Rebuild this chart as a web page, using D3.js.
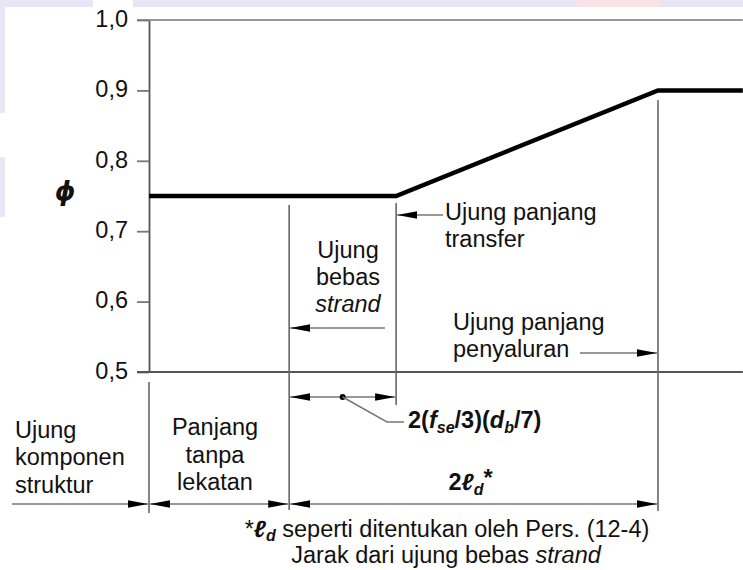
<!DOCTYPE html>
<html><head><meta charset="utf-8">
<script src="https://cdn.jsdelivr.net/npm/d3@7"></script>
<style>
html,body{margin:0;padding:0;background:#fff;}
svg{display:block;font-family:"Liberation Sans",Arial,Helvetica,sans-serif;}
</style></head>
<body>
<svg id="chart" width="743" height="570"></svg>
<script>
// ---------- data ----------
const yTickValues = [0.5, 0.6, 0.7, 0.8, 0.9, 1.0];
const yTickLabels = ["0,5", "0,6", "0,7", "0,8", "0,9", "1,0"];
// distances in units of l_d measured from the free end of the strand
const phiCurveDist = [-0.76, 0.58, 2.0, 2.46];
const phiCurveVal  = [0.75, 0.75, 0.90, 0.90];
const markNames = ["Ujung komponen struktur", "Ujung bebas strand", "Ujung panjang transfer", "Ujung panjang penyaluran"];
const markDist  = [-0.76, 0, 0.58, 2.0];
const xExtent = [-0.76, 2.46];

// ---------- setup ----------
const W = 743, H = 570;
const svg = d3.select("#chart");
const FS = 23.5;
const lineCol = "#666";

// faint watermark background
const bg = svg.append("g");
bg.append("rect").attr("x",0).attr("y",0).attr("width",W).attr("height",7).attr("fill","#e8e6f5");
bg.append("rect").attr("x",93).attr("y",0).attr("width",40).attr("height",7).attr("fill","#fff");
bg.append("rect").attr("x",578).attr("y",0).attr("width",82).attr("height",7).attr("fill","#f9e3e7");
bg.append("rect").attr("x",0).attr("y",7).attr("width",5).attr("height",106).attr("fill","#e8e6f5");
bg.append("rect").attr("x",0).attr("y",157).attr("width",5).attr("height",60).attr("fill","#e8e6f5");

const x = d3.scaleLinear().domain([markDist[0], markDist[3]]).range([149, 658]);
const y = d3.scaleLinear().domain([0.5, 1.0]).range([372, 20]);

// markers
const defs = svg.append("defs");
defs.append("marker").attr("id","ah").attr("viewBox","0 -4 20 8")
  .attr("refX",20).attr("refY",0).attr("markerWidth",20).attr("markerHeight",8)
  .attr("markerUnits","userSpaceOnUse").attr("orient","auto-start-reverse")
  .append("path").attr("d","M0,-3.8L20,0L0,3.8Z").attr("fill","#000");

// ---------- axis ----------
const axis = d3.axisLeft(y).tickValues(yTickValues)
  .tickFormat((d,i)=>yTickLabels[i]).tickSize(12).tickSizeOuter(0).tickPadding(9);
const gAxis = svg.append("g").attr("transform",`translate(${x(markDist[0])},0)`).call(axis);
gAxis.select(".domain").attr("stroke","#555").attr("stroke-width",1.8);
gAxis.selectAll(".tick line").attr("stroke","#777").attr("stroke-width",1.8);
gAxis.selectAll(".tick text").attr("font-size",FS).attr("fill","#111")
  .attr("font-family","'Liberation Sans',Arial,sans-serif").attr("dy","0.27em");

// horizontal frame lines at 1.0 and 0.5
svg.append("line").attr("x1",x(markDist[0])-12).attr("x2",x(xExtent[1]))
  .attr("y1",y(1.0)).attr("y2",y(1.0)).attr("stroke","#777").attr("stroke-width",1.6);
svg.append("line").attr("x1",x(markDist[0])-12).attr("x2",x(xExtent[1]))
  .attr("y1",y(0.5)).attr("y2",y(0.5)).attr("stroke","#555").attr("stroke-width",2);

// phi label
svg.append("text").attr("x",65).attr("y",200).attr("text-anchor","middle")
  .attr("font-size",26).attr("font-weight","bold").attr("font-style","italic")
  .attr("font-family","'DejaVu Sans',sans-serif").attr("fill","#111").text("\u03D5");

// ---------- vertical marker lines ----------
const vLines = [
  {d: markDist[0], y1: 382, y2: 513},
  {d: markDist[1], y1: 205, y2: 510},
  {d: markDist[2], y1: 203, y2: 405},
  {d: markDist[3], y1: 100, y2: 511}
];
svg.append("g").selectAll("line").data(vLines).join("line")
  .attr("x1",v=>x(v.d)).attr("x2",v=>x(v.d)).attr("y1",v=>v.y1).attr("y2",v=>v.y2)
  .attr("stroke",lineCol).attr("stroke-width",1.6);

// ---------- phi curve ----------
const curve = phiCurveDist.map((d,i)=>[d, phiCurveVal[i]]);
svg.append("path").datum(curve)
  .attr("d", d3.line().x(p=>x(p[0])).y(p=>y(p[1])))
  .attr("fill","none").attr("stroke","#000").attr("stroke-width",4.5).attr("stroke-linejoin","miter");

// ---------- dimension arrows ----------
function arrow(x1, x2, yy, start, end){
  const l = svg.append("line").attr("x1",x1).attr("x2",x2).attr("y1",yy).attr("y2",yy)
    .attr("stroke","#777").attr("stroke-width",1.6);
  if(start) l.attr("marker-start","url(#ah)");
  if(end) l.attr("marker-end","url(#ah)");
}
// transfer length pointer
arrow(443, x(markDist[2])+1, 215, false, true);
// free strand end pointer
arrow(385, x(markDist[1])+1, 328, false, true);
// development length pointer
arrow(580, x(markDist[3])-1, 353, false, true);
// 2(fse/3)(db/7)
arrow(x(markDist[1])+1, x(markDist[2])-1, 397, true, true);
// bottom row
arrow(12, x(markDist[0])-1, 504, false, true);
arrow(x(markDist[0])+1, x(markDist[1])-1, 504, true, true);
arrow(x(markDist[1])+1, x(markDist[3])-1, 504, true, true);

// leader for formula
const dotX = (x(markDist[1]) + x(markDist[2]))/2;
svg.append("circle").attr("cx",dotX).attr("cy",397).attr("r",3).attr("fill","#000");
svg.append("polyline").attr("points",`${dotX},397 387,422 404,422`)
  .attr("fill","none").attr("stroke","#777").attr("stroke-width",1.5);

// ---------- texts ----------
function multi(lines, xx, y0, anchor, gap){
  const t = svg.append("text").attr("text-anchor",anchor).attr("font-size",FS).attr("fill","#111");
  lines.forEach((ln,i)=>{
    const ts = t.append("tspan").attr("x",xx).attr("y",y0+i*gap);
    if(typeof ln === "string") ts.text(ln);
    else { ts.text(ln.t); if(ln.i) ts.attr("font-style","italic"); }
  });
  return t;
}
multi(["Ujung","komponen","struktur"], 15, 438, "start", 27.3);
multi(["Panjang","tanpa","lekatan"], 215, 435, "middle", 27.5);
multi(["Ujung","bebas",{t:"strand",i:true}], 348, 258, "middle", 27);
multi(["Ujung panjang","transfer"], 445, 220, "start", 27);
multi(["Ujung panjang","penyaluran"], 453, 330, "start", 27);

// formula 2(fse/3)(db/7)
const f = svg.append("text").attr("x",408).attr("y",428).attr("font-size",FS)
  .attr("font-weight","bold").attr("fill","#111");
f.append("tspan").text("2(");
f.append("tspan").attr("font-style","italic").text("f");
f.append("tspan").attr("font-style","italic").attr("font-size",16).attr("dy",5).text("se");
f.append("tspan").attr("dy",-5).text("/3)(");
f.append("tspan").attr("font-style","italic").text("d");
f.append("tspan").attr("font-style","italic").attr("font-size",16).attr("dy",5).text("b");
f.append("tspan").attr("dy",-5).text("/7)");

// 2 l_d *
const l2 = svg.append("text").attr("x",(x(markDist[1])+x(markDist[3]))/2-3).attr("y",490)
  .attr("text-anchor","middle").attr("font-size",FS).attr("font-weight","bold").attr("fill","#111");
l2.append("tspan").text("2");
l2.append("tspan").attr("font-style","italic").text("\u2113");
l2.append("tspan").attr("font-style","italic").attr("font-size",16).attr("dy",5).text("d");
l2.append("tspan").attr("dy",-9).text("*");

// footnote
const fn = svg.append("text").attr("x",447).attr("y",537).attr("text-anchor","middle")
  .attr("font-size",FS).attr("fill","#111");
fn.append("tspan").text("*");
fn.append("tspan").attr("font-style","italic").attr("font-weight","bold").text("\u2113");
fn.append("tspan").attr("font-style","italic").attr("font-weight","bold").attr("font-size",16).attr("dy",4).text("d");
fn.append("tspan").attr("dy",-4).text(" seperti ditentukan oleh Pers. (12-4)");
const fn2 = svg.append("text").attr("x",446).attr("y",563).attr("text-anchor","middle")
  .attr("font-size",FS).attr("fill","#111");
fn2.append("tspan").text("Jarak dari ujung bebas ");
fn2.append("tspan").attr("font-style","italic").text("strand");
</script>
</body></html>
